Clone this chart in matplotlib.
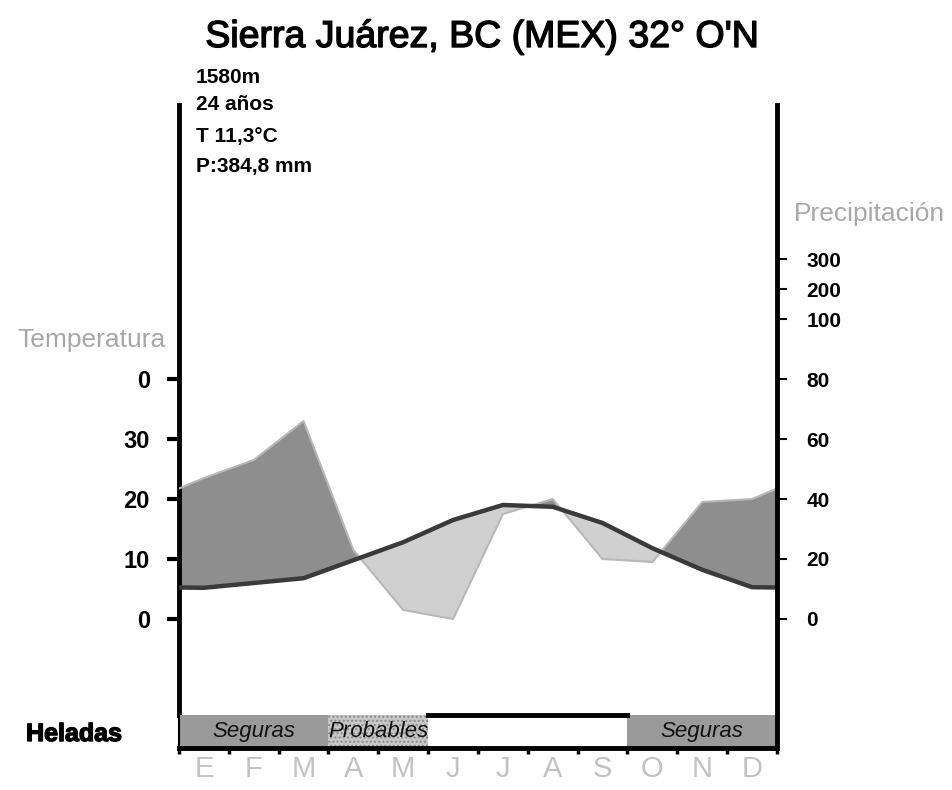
import matplotlib
matplotlib.use("Agg")
import matplotlib.pyplot as plt
import matplotlib.patheffects as pe
from matplotlib.patches import Rectangle

plt.rcParams['font.family'] = ['Liberation Sans', 'DejaVu Sans']

meses = ["E", "F", "M", "A", "M", "J", "J", "A", "S", "O", "N", "D"]
temp = [5.2, 6.0, 6.8, 9.8, 12.8, 16.5, 19.0, 18.7, 16.0, 11.8, 8.2, 5.3]
prec = [47, 53, 66, 23, 3, 0, 35, 40, 20, 19, 39, 40]

temp_ticks = [0, 10, 20, 30, 40]
temp_labels = ["0", "10", "20", "30", "0"]
prec_ticks = [0, 20, 40, 60, 80, 100, 200, 300]

heladas = ["Seguras", "Probables", "", "Seguras"]
heladas_meses = [3, 2, 4, 3]
heladas_color = ["#9a9a9a", "#c8c8c8", "white", "#9a9a9a"]

titulo = "Sierra Juárez, BC (MEX) 32° O'N"
info = ["1580m", "24 años", "T 11,3°C", "P:384,8 mm"]


# escala de precipitacion: 20 mm = 10 C, por encima de 100 mm comprimida 1/10
def p2y(p):
    if p <= 100:
        return p / 2.0
    return 50 + (p - 100) / 20.0


W, H = 953, 790
fig = plt.figure(figsize=(W / 100, H / 100), dpi=100)
grueso = [pe.withStroke(linewidth=1.0, foreground="black")]

# ejes principales (en pixeles de la figura)
x0, x1 = 179, 777
y_top, y_bot = 105, 715
ax = fig.add_axes([x0 / W, 1 - y_bot / H, (x1 - x0) / W, (y_bot - y_top) / H])
ax.set_xlim(0, 12)
ax.set_ylim((619 - y_bot) / 6.0, (619 - y_top) / 6.0)

# puntos en el centro de cada mes, con bordes = media de dic y ene
xs = [0] + [i + 0.5 for i in range(12)] + [12]
t_borde = (temp[0] + temp[-1]) / 2.0
p_borde = (prec[0] + prec[-1]) / 2.0
ts = [t_borde] + temp + [t_borde]
ps = [p2y(p_borde)] + [p2y(p) for p in prec] + [p2y(p_borde)]

humedo = [p >= t for p, t in zip(ps, ts)]
seco = [p <= t for p, t in zip(ps, ts)]
ax.fill_between(xs, ts, ps, where=humedo, interpolate=True,
                color="#8e8e8e", lw=0, zorder=2)
ax.fill_between(xs, ts, ps, where=seco, interpolate=True,
                color="#d0d0d0", lw=0, zorder=2)
ax.plot(xs, ps, color="#b8b8b8", lw=1.5, zorder=3)
ax.plot(xs, ts, color="#3a3a3a", lw=3.2, zorder=4)

ax.spines['top'].set_visible(False)
ax.spines['bottom'].set_visible(False)
ax.spines['right'].set_visible(False)
ax.spines['left'].set_linewidth(3.5)
ax.set_xticks([])
ax.set_yticks(temp_ticks)
ax.set_yticklabels(temp_labels, fontsize=17, fontweight="bold")
ax.tick_params(axis="y", direction="out", length=9, width=3, pad=12)

ax2 = ax.twinx()
ax2.set_ylim(ax.get_ylim())
for s in ["top", "bottom", "left"]:
    ax2.spines[s].set_visible(False)
ax2.spines['right'].set_linewidth(3.5)
ax2.set_yticks([p2y(p) for p in prec_ticks])
ax2.set_yticklabels([str(p) for p in prec_ticks], fontsize=15, fontweight="bold")
ax2.tick_params(axis="y", direction="out", length=7, width=1.5, pad=14)

# barra de heladas
axh = fig.add_axes([x0 / W, 1 - 748 / H, (x1 - x0) / W, 33 / H])
axh.set_xlim(0, 12)
axh.set_ylim(0, 1)
inicio = 0
for lab, n, col in zip(heladas, heladas_meses, heladas_color):
    hatch = "...." if lab == "Probables" else None
    r = Rectangle((inicio, 0), n, 1, facecolor=col, edgecolor="#8a8a8a" if hatch else "none",
                  hatch=hatch, lw=0)
    axh.add_patch(r)
    if col == "white":
        axh.plot([inicio, inicio + n], [1, 1], color="black", lw=3.5, clip_on=False)
    axh.text(inicio + n / 2.0, 0.5, lab, ha="center", va="center",
             fontsize=16, style="italic", color="#111111")
    inicio += n

axh.spines['top'].set_visible(False)
axh.spines['bottom'].set_linewidth(3.5)
axh.spines['left'].set_linewidth(1.5)
axh.spines['right'].set_linewidth(3.5)
axh.set_yticks([])
axh.set_xticks([i + 0.5 for i in range(12)])
axh.set_xticklabels(meses, fontsize=21, color="#c2c2c2")
axh.set_xticks(range(13), minor=True)
axh.tick_params(axis="x", which="major", length=0, pad=5)
axh.tick_params(axis="x", which="minor", length=4, width=2.5, direction="out")

# textos
fig.text(482 / W, 1 - 37 / H, titulo, ha="center", va="center", fontsize=27,
         path_effects=grueso)
for txt, yb in zip(info, [83, 110, 142, 172]):
    fig.text(196 / W, 1 - yb / H, txt, ha="left", va="baseline",
             fontsize=15, fontweight="bold")
fig.text(92 / W, 1 - 340 / H, "Temperatura", ha="center", va="center",
         fontsize=19, color="#a8a8a8")
fig.text(869 / W, 1 - 214 / H, "Precipitación", ha="center", va="center",
         fontsize=19, color="#a8a8a8")
fig.text(74 / W, 1 - 734 / H, "Heladas", ha="center", va="center",
         fontsize=18, fontweight="bold", path_effects=grueso)

plt.savefig("out.png", dpi=100)
